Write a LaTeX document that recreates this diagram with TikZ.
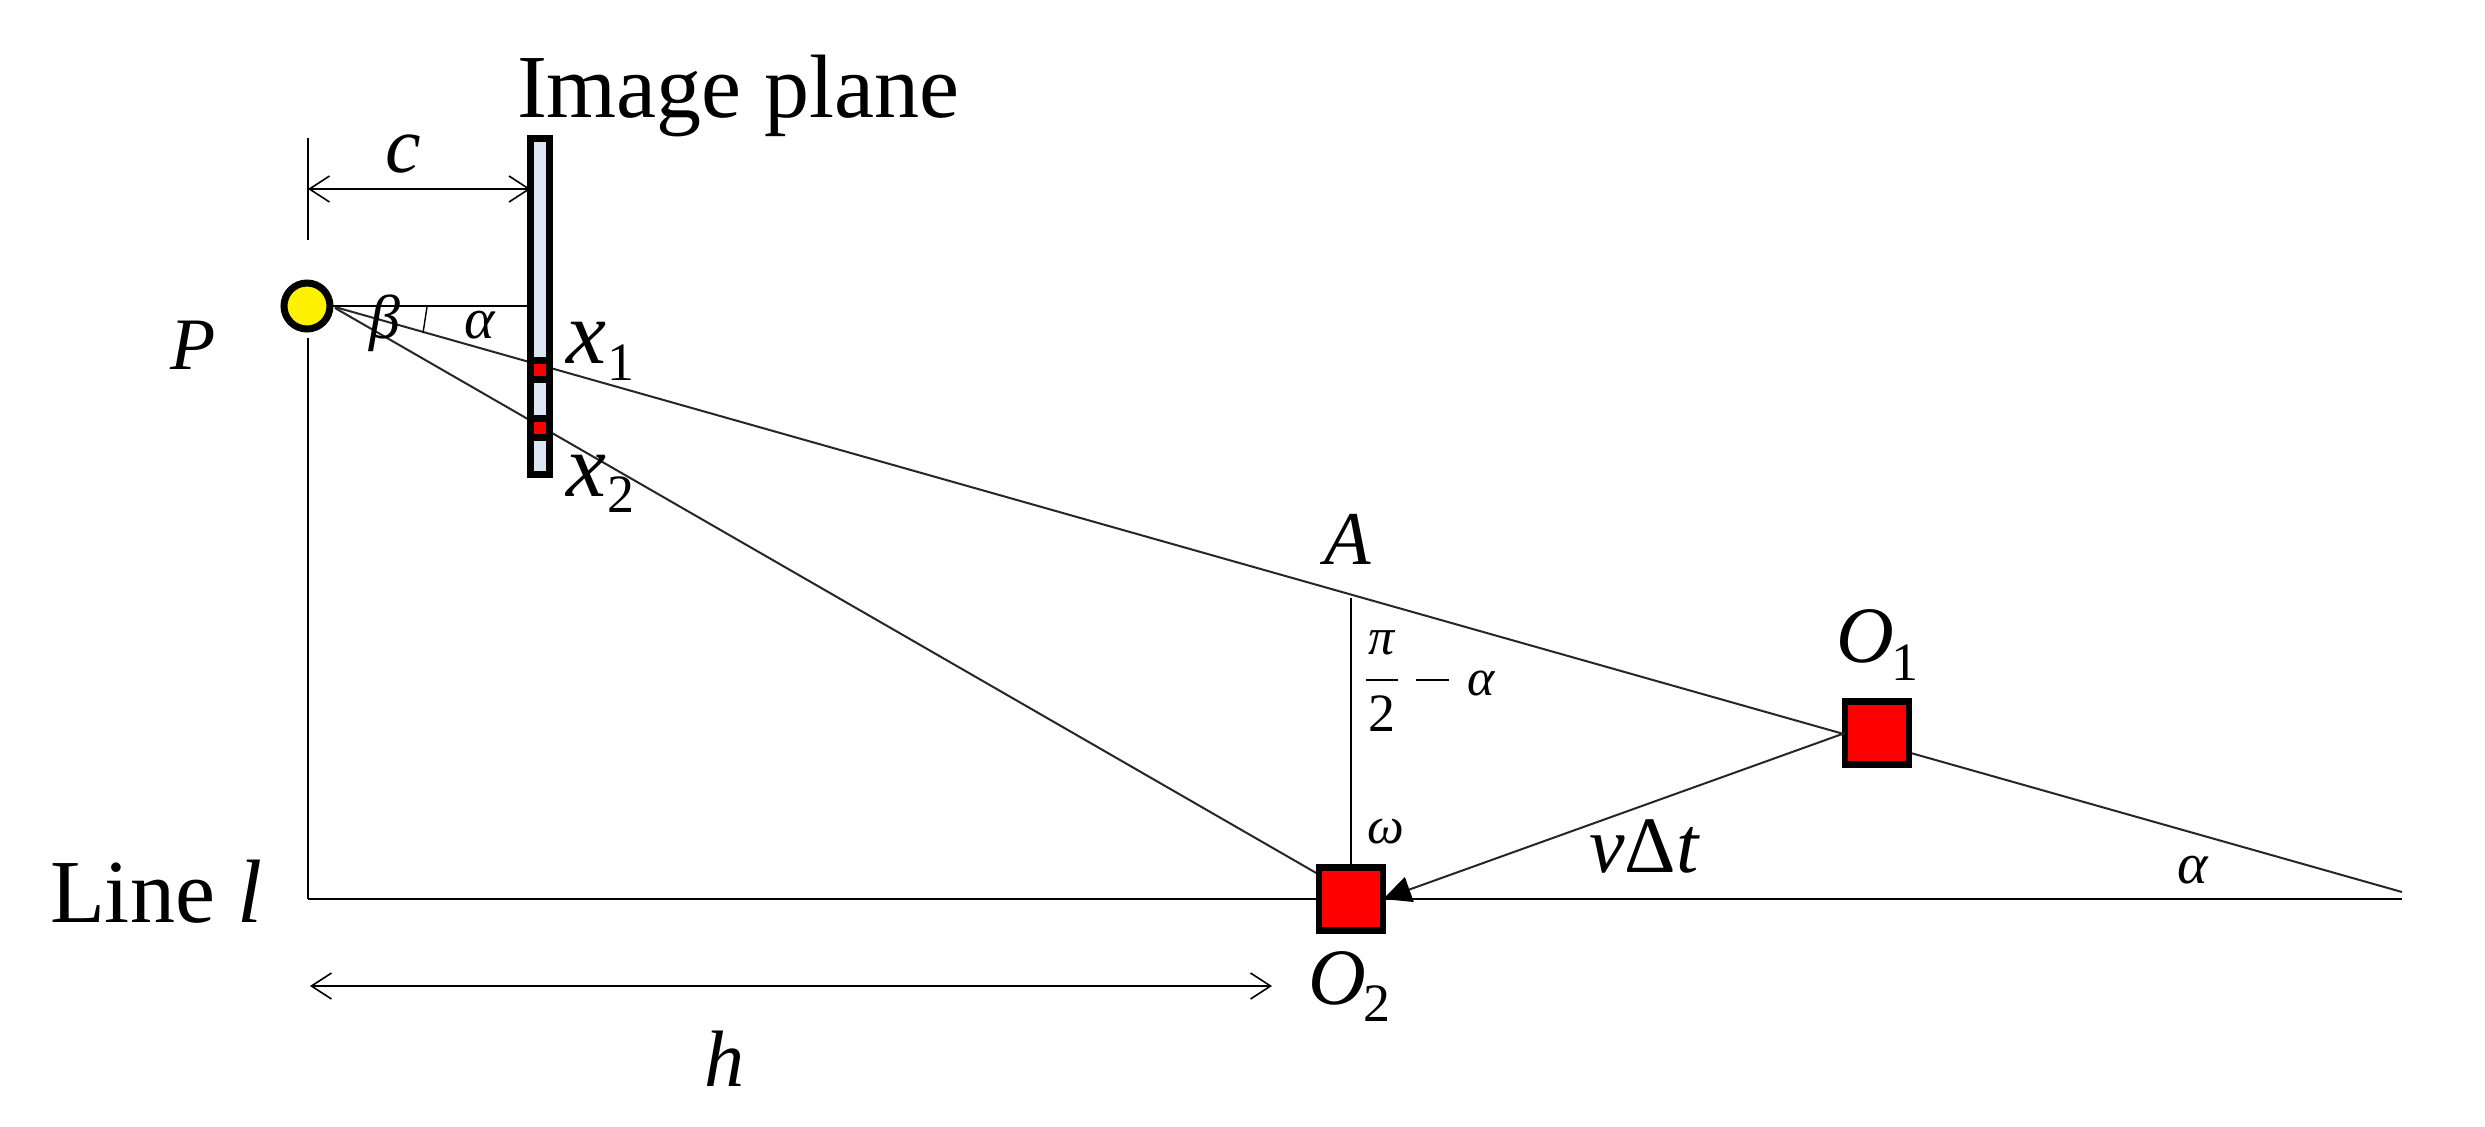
\documentclass[tikz,border=0pt]{standalone}
\usepackage{fontspec}
\setmainfont{Liberation Serif}
\usetikzlibrary{arrows.meta,backgrounds}
\definecolor{planeblue}{HTML}{DCE6F2}
\newcommand{\fs}[1]{\fontsize{#1}{#1}\selectfont}
\newcommand{\subd}[2]{\raisebox{#1}{\fs{27}\upshape #2}}
\tikzset{
  lbl/.style={inner sep=0pt,outer sep=0pt,anchor=base,font=\fs{40}\itshape},
  lblw/.style={lbl,anchor=base west},
  small/.style={lbl,font=\fs{29}\itshape},
  tiny/.style={lbl,font=\fs{26}\itshape},
  thinline/.style={line width=1.1pt,black},
  ray/.style={line width=1pt,black!85},
  dim/.style={line width=0.8pt,black,{Straight Barb[length=10pt,width=13pt,line width=0.8pt]}-{Straight Barb[length=10pt,width=13pt,line width=0.8pt]}},
  box/.style={draw=black,line width=3.25pt,fill=red,inner sep=0pt,outer sep=0pt,minimum width=32pt,minimum height=31.5pt},
  bar/.style={draw=black,line width=3.5pt,inner sep=0pt,outer sep=0pt,minimum width=9.5pt},
}
\begin{document}
\begin{tikzpicture}[x=0.5pt,y=-0.5pt]
\useasboundingbox (0,0) rectangle (2485,1126);
% objects
\node[bar,fill=planeblue,minimum height=167.75pt] (plane) at (540,306.25) {};
\node[bar,fill=red,minimum height=9.5pt] (px1) at (540,370) {};
\node[bar,fill=red,minimum height=9.5pt] (px2) at (540,428) {};
\node[circle,draw=black,line width=3.5pt,fill=yellow,inner sep=0pt,outer sep=0pt,minimum size=23pt] (P) at (307,306) {};
\node[box] (O1) at (1877,733) {};
\node[box] (O2) at (1351,899) {};
% free ends
\coordinate (r1s) at (335,307);
\coordinate (r1e) at (2402,892);
\coordinate (r2s) at (335,308);
\coordinate (r2e) at (1318,874);
\coordinate (lineL) at (308,899);
\coordinate (lineR) at (2402,899);
\coordinate (vt1) at (308,138);
\coordinate (vt2) at (308,240);
\coordinate (vb) at (308,338);
\coordinate (Atop) at (1351,598);
\coordinate (cL) at (308,189);
\coordinate (hL) at (310,986);
\coordinate (hR) at (1272,986);
\coordinate (ta) at (427,307);
\coordinate (tb) at (423,333);
\begin{pgfonlayer}{background}
\draw[ray] (r1s) -- (r1e);
\draw[ray] (r2s) -- (r2e);
\end{pgfonlayer}
% connectors
\draw[thinline] (P.east) -- (plane.west |- P.east);
\draw[thinline] (lineL) -- (O2.west);
\draw[thinline] (O2.east) -- (lineR);
\draw[thinline] (vt1) -- (vt2);
\draw[thinline] (vb) -- (lineL);
\draw[thinline] (Atop) -- (O2.north);
\draw[line width=0.7pt] (ta) -- (tb);
\draw[ray,-{Triangle[length=14pt,width=13pt,black,fill=black]}] (O1.west) -- (O2.east);
\draw[dim] (cL) -- (plane.west |- cL);
\draw[dim] (hL) -- (hR);
% texts
\node[lblw,font=\fs{45}\upshape] (title) at (517,117) {Image plane};
\node[lblw,font=\fs{45}\upshape] (linel) at (50,922) {Line \textit{l}};
\node[lbl] (tc) at (403,172) {c};
\node[lbl,font=\fs{37}\itshape] (tP) at (193,369) {P};
\node[small,font=\fs{31}\itshape] (tbeta) at (385,338) {β};
\node[small] (talpha) at (480,338) {α};
\node[lblw,font=\fs{45}\itshape] (tx1) at (566,363) {x\kern1pt\subd{-8.5pt}{1}};
\node[lblw,font=\fs{45}\itshape] (tx2) at (566,496) {x\kern1pt\subd{-8pt}{2}};
\node[lbl,font=\fs{38}\itshape] (tA) at (1348,564) {A};
\node[tiny] (tpi) at (1382,654) {π};
\draw[line width=1pt] (1366,680) -- (1398,680);
\node[tiny,font=\fs{27}\upshape] (ttwo) at (1382,731) {2};
\draw[line width=1pt] (1416,680) -- (1449,680);
\node[tiny] (ta2) at (1481,695) {α};
\node[tiny] (tom) at (1386,843) {ω};
\node[lbl] (tvdt) at (1644,872) {v\upshape Δ\itshape t};
\node[lblw] (tO1) at (1836,662) {O\kern-1pt\subd{-9pt}{1}};
\node[lblw] (tO2) at (1308,1004) {O\kern-1pt\subd{-8.5pt}{2}};
\node[lbl] (th) at (724,1086) {h};
\node[small] (ta3) at (2193,883) {α};
\end{tikzpicture}
\end{document}
